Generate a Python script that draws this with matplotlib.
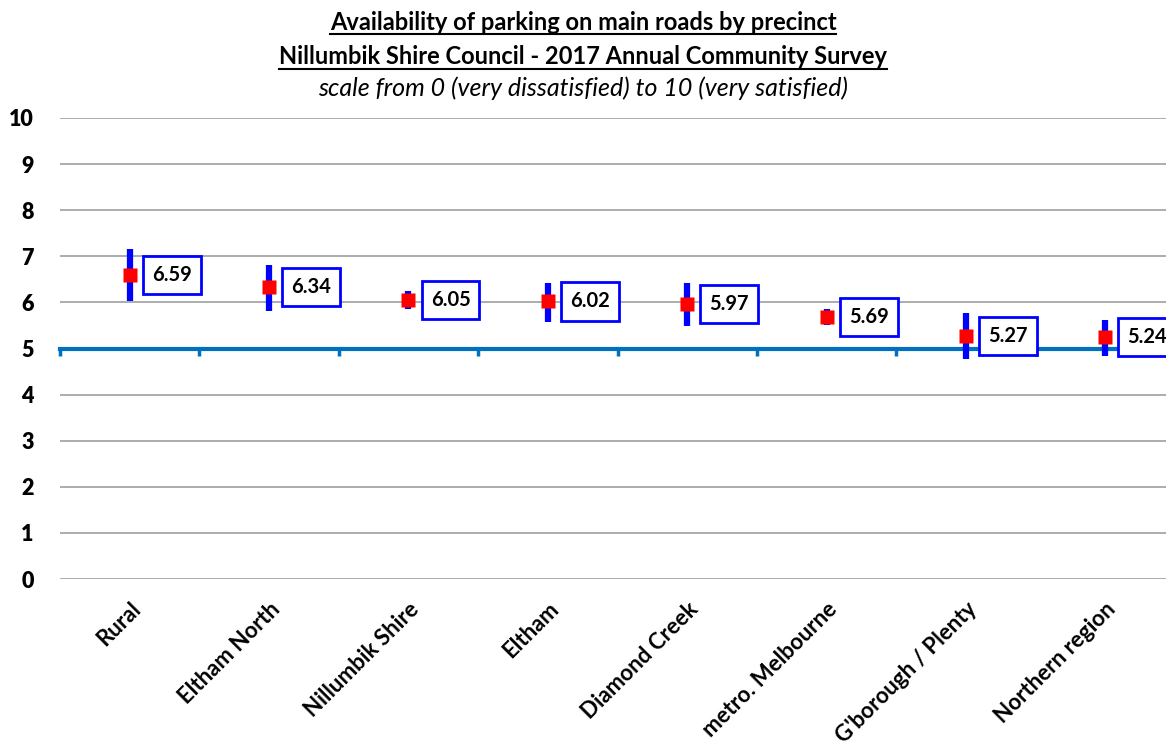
import matplotlib
matplotlib.use('Agg')
import matplotlib.pyplot as plt
from matplotlib.lines import Line2D

categories = ['Rural', 'Eltham North', 'Nillumbik Shire', 'Eltham', 'Diamond Creek',
              'metro. Melbourne', "G'borough / Plenty", 'Northern region']
means = [6.59, 6.34, 6.05, 6.02, 5.97, 5.69, 5.27, 5.24]
lows = [6.03, 5.81, 5.85, 5.57, 5.49, 5.52, 4.77, 4.84]
highs = [7.16, 6.81, 6.25, 6.42, 6.42, 5.86, 5.77, 5.62]
yticks = list(range(0, 11))
crossing = 5

title1 = 'Availability of parking on main roads by precinct'
title2 = 'Nillumbik Shire Council - 2017 Annual Community Survey'
subtitle = 'scale from 0 (very dissatisfied) to 10 (very satisfied)'

plt.rcParams['font.family'] = ['Lato', 'DejaVu Sans']

W, H = 1166, 747
fig = plt.figure(figsize=(W / 100, H / 100), dpi=100)
ax = fig.add_axes([60 / W, 1 - 579 / H, 1115 / W, 461 / H])

x = list(range(len(categories)))
ax.set_xlim(-0.5, len(categories) - 0.5)
ax.set_ylim(0, 10)

# gridlines
ax.set_yticks(yticks)
ax.grid(axis='y', color='#A6A6A6', lw=1.3, zorder=0)
ax.set_axisbelow(True)
for s in ['top', 'right', 'left']:
    ax.spines[s].set_visible(False)

# category axis crosses at 5
ax.spines['bottom'].set_position(('data', crossing))
ax.spines['bottom'].set_color('#0070C0')
ax.spines['bottom'].set_linewidth(3)
ax.spines['bottom'].set_zorder(2)
ax.set_xticks([i - 0.5 for i in range(len(categories) + 1)])
ax.tick_params(axis='x', direction='out', length=5, width=2.5, color='#0070C0',
               labelbottom=False)
ax.tick_params(axis='y', length=0, pad=19, labelsize=15.5)
for lab in ax.get_yticklabels():
    lab.set_fontweight('heavy')

# confidence bars and means
ax.vlines(x, lows, highs, colors='#0000FF', lw=4.5, zorder=3)
ax.plot(x, means, 's', color='#FF0000', ms=10, mec='none', zorder=4)

for xi, m in zip(x, means):
    ax.annotate(f'{m:.2f}', (xi, m), xytext=(16, 0), textcoords='offset points',
                ha='left', va='center', fontsize=14.5, fontweight='bold', zorder=5,
                annotation_clip=False,
                bbox=dict(boxstyle='square,pad=0.45', fc='white', ec='#0000FF', lw=2))

for xi, cat in zip(x, categories):
    ax.text(xi, -0.42, cat, rotation=45, ha='right', va='top', rotation_mode='anchor',
            fontsize=16, fontweight='bold', clip_on=False)

# titles
t1 = fig.text(0.5, 1 - 22 / H, title1, ha='center', va='center', fontsize=17, fontweight='bold')
t2 = fig.text(0.5, 1 - 57 / H, title2, ha='center', va='center', fontsize=17, fontweight='bold')
fig.text(0.5, 1 - 88 / H, subtitle, ha='center', va='center', fontsize=18, style='italic')

fig.canvas.draw()
r = fig.canvas.get_renderer()
for t in (t1, t2):
    bb = t.get_window_extent(r).transformed(fig.transFigure.inverted())
    fig.add_artist(Line2D([bb.x0, bb.x1], [bb.y0, bb.y0], transform=fig.transFigure,
                          color='black', lw=1.5))

fig.savefig('out.png', dpi=100)
